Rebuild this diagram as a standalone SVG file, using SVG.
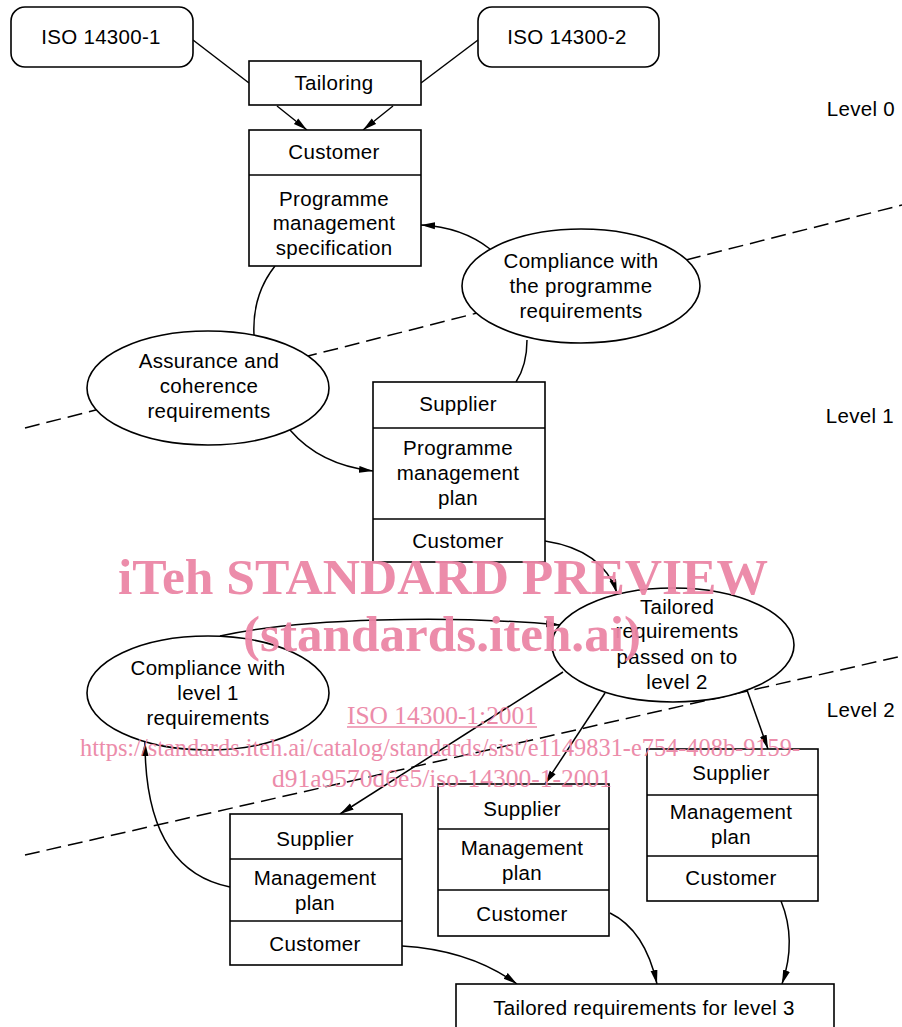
<svg xmlns="http://www.w3.org/2000/svg" width="902" height="1027" viewBox="0 0 902 1027">
<style>
.box{fill:#fff;stroke:#000;stroke-width:1.6}
.ell{fill:#fff;stroke:#000;stroke-width:1.6}
.ln{fill:none;stroke:#000;stroke-width:1.5}
.dash{fill:none;stroke:#000;stroke-width:1.5;stroke-dasharray:15 7}
.t{font-family:"Liberation Sans",Arial,sans-serif;font-size:20.5px;letter-spacing:0.3px;fill:#000;text-anchor:middle}
.lv{font-family:"Liberation Sans",Arial,sans-serif;font-size:20.5px;letter-spacing:0.3px;fill:#000;text-anchor:end}
.wm{font-family:"Liberation Serif","Times New Roman",serif;fill:#ec86a6;text-anchor:middle}
</style>
<defs>
<marker id="ah" markerUnits="userSpaceOnUse" markerWidth="16" markerHeight="9" refX="14" refY="4" orient="auto">
<path d="M0,0.5 L14,4 L0,7.5 z" fill="#000"/>
</marker>
</defs>
<rect width="902" height="1027" fill="#fff"/>
<g id="level-lines">
<line class="dash" x1="25" y1="428" x2="902" y2="205"/>
<line class="dash" x1="25" y1="855" x2="902" y2="656"/>
</g>
<g id="connectors">
<line class="ln" x1="193" y1="40" x2="249" y2="83"/>
<line class="ln" x1="478" y1="40" x2="421" y2="83"/>
<line class="ln" x1="277" y1="106" x2="307" y2="130" marker-end="url(#ah)"/>
<line class="ln" x1="393" y1="106" x2="363" y2="130" marker-end="url(#ah)"/>
<path class="ln" d="M490,249 Q462,227 421,225" marker-end="url(#ah)"/>
<path class="ln" d="M275,266 Q252,295 254,335"/>
<path class="ln" d="M527,340 Q527,365 516,382"/>
<path class="ln" d="M290,430 Q320,465 373,471" marker-end="url(#ah)"/>
<path class="ln" d="M545,541 Q603,550 617,593" marker-end="url(#ah)"/>
<path class="ln" d="M220,636 C300,618 450,615 560,625" marker-end="url(#ah)"/>
<line class="ln" x1="563" y1="672" x2="340" y2="814" marker-end="url(#ah)"/>
<line class="ln" x1="605" y1="693" x2="545" y2="784" marker-end="url(#ah)"/>
<line class="ln" x1="747" y1="690" x2="768" y2="749" marker-end="url(#ah)"/>
<path class="ln" d="M230,887 Q145,870 145,742" marker-end="url(#ah)"/>
<path class="ln" d="M402,946 Q470,950 517,984" marker-end="url(#ah)"/>
<path class="ln" d="M610,913 Q645,930 657,984" marker-end="url(#ah)"/>
<path class="ln" d="M781,901 Q797,940 782,984" marker-end="url(#ah)"/>
</g>
<g id="iso1"><rect class="box" x="11" y="7" width="182" height="60" rx="14"/><text class="t" x="101" y="44">ISO 14300-1</text></g>
<g id="iso2"><rect class="box" x="478" y="7" width="181" height="60" rx="14"/><text class="t" x="567" y="44">ISO 14300-2</text></g>
<g id="tailoring"><rect class="box" x="249" y="61" width="172" height="44"/><text class="t" x="334" y="90">Tailoring</text></g>
<g id="customer-l0"><rect class="box" x="249" y="130" width="172" height="136"/><line class="ln" x1="249" y1="175" x2="421" y2="175"/>
<text class="t" x="334" y="159">Customer</text><text class="t" x="334" y="206">Programme</text><text class="t" x="334" y="230">management</text><text class="t" x="334" y="255">specification</text></g>
<g id="compliance-programme"><ellipse class="ell" cx="581" cy="286" rx="119" ry="57"/>
<text class="t" x="581" y="268">Compliance with</text><text class="t" x="581" y="293">the programme</text><text class="t" x="581" y="318">requirements</text></g>
<g id="assurance"><ellipse class="ell" cx="208" cy="388" rx="121" ry="57"/>
<text class="t" x="209" y="368">Assurance and</text><text class="t" x="209" y="393">coherence</text><text class="t" x="209" y="418">requirements</text></g>
<g id="supplier-l1"><rect class="box" x="373" y="382" width="172" height="180"/><line class="ln" x1="373" y1="428" x2="545" y2="428"/><line class="ln" x1="373" y1="519" x2="545" y2="519"/>
<text class="t" x="458" y="411">Supplier</text><text class="t" x="458" y="455">Programme</text><text class="t" x="458" y="480">management</text><text class="t" x="458" y="505">plan</text><text class="t" x="458" y="548">Customer</text></g>
<g id="tailored-l2"><ellipse class="ell" cx="673" cy="645" rx="121" ry="57"/>
<text class="t" x="677" y="614">Tailored</text><text class="t" x="677" y="638">requirements</text><text class="t" x="677" y="664">passed on to</text><text class="t" x="677" y="689">level 2</text></g>
<g id="compliance-l1"><ellipse class="ell" cx="208" cy="693" rx="121" ry="57"/>
<text class="t" x="208" y="675">Compliance with</text><text class="t" x="208" y="700">level 1</text><text class="t" x="208" y="725">requirements</text></g>
<g id="supplier-a"><rect class="box" x="230" y="814" width="172" height="151"/><line class="ln" x1="230" y1="859" x2="402" y2="859"/><line class="ln" x1="230" y1="921" x2="402" y2="921"/>
<text class="t" x="315" y="846">Supplier</text><text class="t" x="315" y="885">Management</text><text class="t" x="315" y="910">plan</text><text class="t" x="315" y="951">Customer</text></g>
<g id="supplier-b"><rect class="box" x="438" y="784" width="171" height="152"/><line class="ln" x1="438" y1="829" x2="609" y2="829"/><line class="ln" x1="438" y1="890" x2="609" y2="890"/>
<text class="t" x="522" y="816">Supplier</text><text class="t" x="522" y="855">Management</text><text class="t" x="522" y="880">plan</text><text class="t" x="522" y="921">Customer</text></g>
<g id="supplier-c"><rect class="box" x="647" y="749" width="171" height="152"/><line class="ln" x1="647" y1="795" x2="818" y2="795"/><line class="ln" x1="647" y1="856" x2="818" y2="856"/>
<text class="t" x="731" y="780">Supplier</text><text class="t" x="731" y="819">Management</text><text class="t" x="731" y="844">plan</text><text class="t" x="731" y="885">Customer</text></g>
<g id="tailored-l3"><rect class="box" x="456" y="984" width="378" height="60"/><text class="t" x="644" y="1015">Tailored requirements for level 3</text></g>
<g id="levels"><text class="lv" x="895" y="116">Level 0</text><text class="lv" x="894" y="423">Level 1</text><text class="lv" x="895" y="717">Level 2</text></g>
<g id="watermark" opacity="0.95">
<text class="wm" x="443" y="594" font-size="51" font-weight="bold" textLength="650" lengthAdjust="spacingAndGlyphs">iTeh STANDARD PREVIEW</text>
<text class="wm" x="442" y="651" font-size="51" font-weight="bold" textLength="398" lengthAdjust="spacingAndGlyphs">(standards.iteh.ai)</text>
<text class="wm" x="442" y="724" font-size="25" textLength="190" lengthAdjust="spacingAndGlyphs">ISO 14300-1:2001</text>
<line x1="347" y1="727" x2="537" y2="727" stroke="#ec86a6" stroke-width="1.3"/>
<text class="wm" x="440" y="756" font-size="25" textLength="720" lengthAdjust="spacingAndGlyphs">https://standards.iteh.ai/catalog/standards/sist/e1149831-e754-408b-9159-</text>
<text class="wm" x="442" y="787" font-size="25" textLength="340" lengthAdjust="spacingAndGlyphs">d91a9570d6e5/iso-14300-1-2001</text>
</g>
</svg>
